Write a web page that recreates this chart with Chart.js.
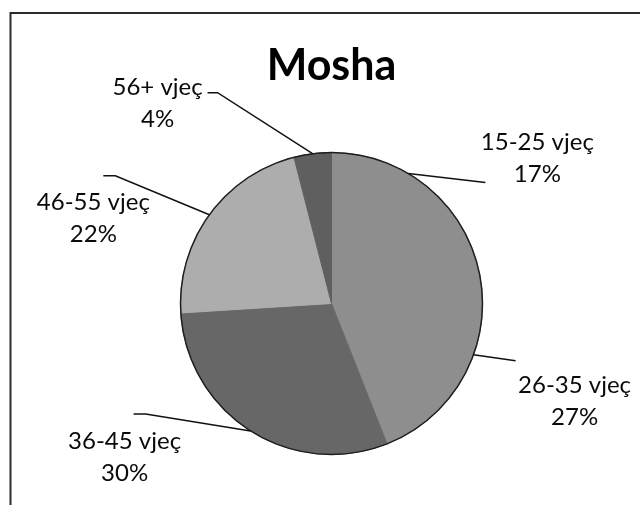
<!DOCTYPE html>
<html>
<head>
<meta charset="utf-8">
<script src="https://cdn.jsdelivr.net/npm/chart.js@4"></script>
<style>
  html, body { margin: 0; padding: 0; background: #fff; }
  #wrap { width: 640px; height: 505px; position: relative; }
</style>
</head>
<body>
<div id="wrap"><canvas id="c" width="640" height="505"></canvas></div>
<script>
// ---- data ----
const chartTitle = 'Mosha';
const categories = ['15-25 vjeç', '26-35 vjeç', '36-45 vjeç', '46-55 vjeç', '56+ vjeç'];
const values = [17, 27, 30, 22, 4];
const percentLabels = ['17%', '27%', '30%', '22%', '4%'];

// ---- styles ----
const sliceColors = ['#8e8e8e', '#8e8e8e', '#676767', '#adadad', '#5f5f5f'];
// label centre offsets and leader points, relative to the slice's outer mid point
const labelLayout = [
  { label: [129, -16], knee: [77, 9],   end: [77, 9] },
  { label: [101, 46],  knee: [42, 6],   end: [42, 6] },
  { label: [-126, 26], knee: [-105, -17], end: [-117, -17] },
  { label: [-116, 3],  knee: [-94, -39],  end: [-106, -39] },
  { label: [-155, -51], knee: [-95, -61], end: [-105, -61] }
];
const labelFont = '24px Lato';
const lineGap = 32;

const decorPlugin = {
  id: 'decor',
  beforeDraw(chart) {
    const ctx = chart.ctx;
    ctx.save();
    ctx.strokeStyle = '#2a2a2a';
    ctx.lineWidth = 2;
    ctx.beginPath();
    ctx.moveTo(10.5, 510);
    ctx.lineTo(10.5, 13);
    ctx.lineTo(650, 13);
    ctx.stroke();
    ctx.restore();
  },
  afterDatasetsDraw(chart) {
    const ctx = chart.ctx;
    const meta = chart.getDatasetMeta(0);
    ctx.save();
    // outline of the pie
    const a0 = meta.data[0];
    ctx.strokeStyle = '#1e1e1e';
    ctx.lineWidth = 1.5;
    ctx.beginPath();
    ctx.arc(a0.x, a0.y, a0.outerRadius, 0, Math.PI * 2);
    ctx.stroke();

    meta.data.forEach((arc, i) => {
      const mid = (arc.startAngle + arc.endAngle) / 2;
      const ex = arc.x + Math.cos(mid) * arc.outerRadius;
      const ey = arc.y + Math.sin(mid) * arc.outerRadius;
      const L = labelLayout[i];
      // leader line
      ctx.strokeStyle = '#111';
      ctx.lineWidth = 1.5;
      ctx.beginPath();
      ctx.moveTo(ex, ey);
      ctx.lineTo(ex + L.knee[0], ey + L.knee[1]);
      ctx.lineTo(ex + L.end[0], ey + L.end[1]);
      ctx.stroke();
      // label text
      const lx = ex + L.label[0];
      const ly = ey + L.label[1];
      ctx.fillStyle = '#0a0a0a';
      ctx.font = labelFont;
      ctx.textAlign = 'center';
      ctx.textBaseline = 'alphabetic';
      ctx.fillText(categories[i], lx, ly - lineGap / 2 + 8.5);
      ctx.fillText(percentLabels[i], lx, ly + lineGap / 2 + 8.5);
    });
    ctx.restore();
  }
};

new Chart(document.getElementById('c'), {
  type: 'pie',
  data: {
    labels: categories,
    datasets: [{
      data: values,
      backgroundColor: sliceColors,
      borderColor: sliceColors,
      borderWidth: 1
    }]
  },
  options: {
    responsive: false,
    animation: false,
    layout: { padding: { left: 180, right: 157, top: 0, bottom: 50 } },
    plugins: {
      legend: { display: false },
      tooltip: { enabled: false },
      title: {
        display: true,
        text: chartTitle,
        color: '#000',
        font: { family: 'Lato', size: 43, weight: 'bold', lineHeight: 1.2 },
        padding: { top: 40, bottom: 152 - 40 - 43 * 1.2 }
      }
    }
  },
  plugins: [decorPlugin]
});
</script>
</body>
</html>
